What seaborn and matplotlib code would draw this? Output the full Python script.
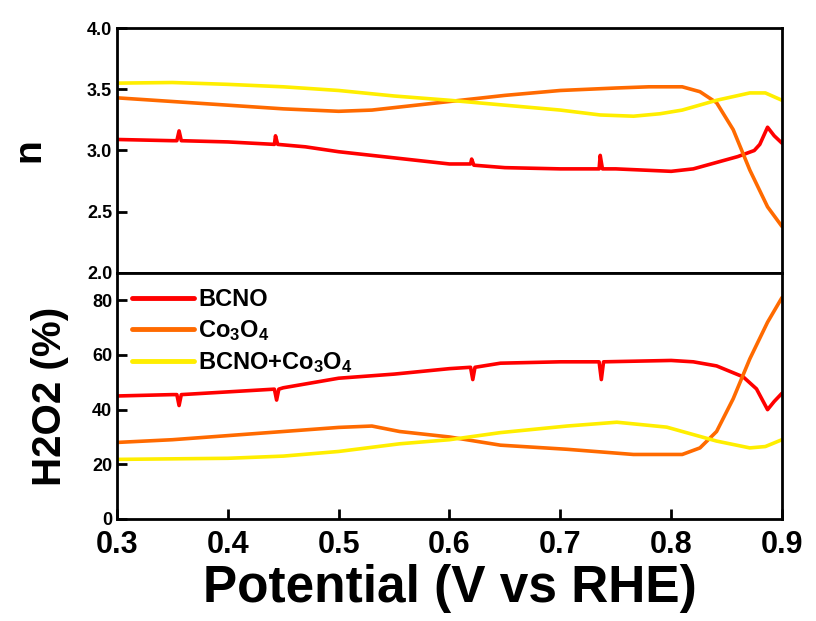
import numpy as np
import pandas as pd
import matplotlib
matplotlib.use("Agg")
import matplotlib.pyplot as plt
import seaborn as sns

# ---- electron transfer number n ----
bcno_n_v = [0.30, 0.35, 0.354, 0.356, 0.358, 0.40, 0.442, 0.443, 0.445, 0.47, 0.50, 0.53, 0.56, 0.60,
            0.619, 0.620, 0.622, 0.65, 0.70, 0.735, 0.736, 0.738, 0.75, 0.80, 0.82, 0.84, 0.86, 0.875,
            0.88, 0.887, 0.893, 0.90]
bcno_n = [3.09, 3.08, 3.08, 3.16, 3.08, 3.07, 3.05, 3.12, 3.05, 3.03, 2.99, 2.96, 2.93, 2.89,
          2.89, 2.93, 2.88, 2.86, 2.85, 2.85, 2.96, 2.85, 2.85, 2.83, 2.85, 2.90, 2.95, 3.00,
          3.05, 3.19, 3.12, 3.06]

co_n_v = [0.30, 0.35, 0.40, 0.45, 0.50, 0.53, 0.56, 0.60, 0.65, 0.70, 0.75, 0.78, 0.81, 0.826,
          0.841, 0.856, 0.871, 0.887, 0.90]
co_n = [3.43, 3.40, 3.37, 3.34, 3.32, 3.33, 3.36, 3.40, 3.45, 3.49, 3.51, 3.52, 3.52, 3.48,
        3.39, 3.17, 2.84, 2.54, 2.38]

mix_n_v = [0.30, 0.35, 0.40, 0.45, 0.50, 0.55, 0.60, 0.65, 0.70, 0.736, 0.766, 0.79, 0.81,
           0.841, 0.871, 0.885, 0.90]
mix_n = [3.55, 3.555, 3.54, 3.52, 3.49, 3.445, 3.41, 3.37, 3.33, 3.29, 3.28, 3.30, 3.33,
         3.41, 3.47, 3.47, 3.41]

# ---- H2O2 selectivity (%) ----
bcno_h_v = [0.30, 0.35, 0.354, 0.356, 0.358, 0.40, 0.442, 0.444, 0.446, 0.45, 0.50, 0.55, 0.60,
            0.619, 0.621, 0.623, 0.646, 0.70, 0.735, 0.737, 0.739, 0.80, 0.82, 0.841, 0.865,
            0.877, 0.887, 0.893, 0.90]
bcno_h = [45.0, 45.5, 45.5, 41.5, 45.5, 46.5, 47.5, 43.5, 47.5, 48.0, 51.5, 53.0, 55.0,
          55.5, 51.0, 55.5, 57.0, 57.5, 57.5, 51.0, 57.5, 58.0, 57.5, 56.0, 52.0,
          47.6, 40.0, 43.0, 46.0]

co_h_v = [0.30, 0.35, 0.40, 0.45, 0.50, 0.53, 0.555, 0.60, 0.646, 0.706, 0.766, 0.81, 0.826,
          0.841, 0.856, 0.871, 0.887, 0.90]
co_h = [28.0, 29.0, 30.5, 32.0, 33.5, 34.0, 32.0, 30.0, 27.0, 25.5, 23.6, 23.6, 26.0,
        32.0, 44.0, 58.6, 72.0, 81.0]

mix_h_v = [0.30, 0.35, 0.40, 0.45, 0.50, 0.555, 0.60, 0.646, 0.706, 0.751, 0.796, 0.841,
           0.871, 0.885, 0.90]
mix_h = [21.8, 22.0, 22.2, 23.0, 24.7, 27.5, 29.0, 31.6, 34.0, 35.4, 33.6, 28.5,
         26.0, 26.5, 29.0]

series_names = ["BCNO", "Co3O4", "BCNO+Co3O4"]
series_labels = ["BCNO", r"Co$_\mathregular{3}$O$_\mathregular{4}$",
                 r"BCNO+Co$_\mathregular{3}$O$_\mathregular{4}$"]
series_colors = ["#FF0000", "#FF6A00", "#FFEE00"]

n_ticks = [2.0, 2.5, 3.0, 3.5, 4.0]
h_ticks = [0, 20, 40, 60, 80]
v_ticks = [0.3, 0.4, 0.5, 0.6, 0.7, 0.8, 0.9]


def long_frame(pairs, value_name):
    parts = []
    for name, (v, y) in zip(series_names, pairs):
        parts.append(pd.DataFrame({"Potential": v, value_name: y, "sample": name}))
    return pd.concat(parts, ignore_index=True)


n_df = long_frame([(bcno_n_v, bcno_n), (co_n_v, co_n), (mix_n_v, mix_n)], "n")
h_df = long_frame([(bcno_h_v, bcno_h), (co_h_v, co_h), (mix_h_v, mix_h)], "H2O2")

sns.set_theme(style="ticks")
plt.rcParams["font.family"] = ["Liberation Sans", "DejaVu Sans"]
plt.rcParams["font.weight"] = "bold"
plt.rcParams["axes.labelweight"] = "bold"
plt.rcParams["mathtext.default"] = "regular"
for key in ("text.color", "axes.labelcolor", "xtick.color", "ytick.color",
            "xtick.labelcolor", "ytick.labelcolor", "axes.edgecolor"):
    plt.rcParams[key] = "black"

fig = plt.figure(figsize=(8.16, 6.21), dpi=100)
fig.patch.set_facecolor("white")
ax_n = fig.add_axes([0.1434, 0.5604, 0.8149, 0.3945])
ax_h = fig.add_axes([0.1434, 0.1643, 0.8149, 0.3961])

palette = dict(zip(series_names, series_colors))
sns.lineplot(data=n_df, x="Potential", y="n", hue="sample", palette=palette,
             estimator=None, sort=False, linewidth=2.6, ax=ax_n, legend=False)
sns.lineplot(data=h_df, x="Potential", y="H2O2", hue="sample", palette=palette,
             estimator=None, sort=False, linewidth=2.6, ax=ax_h, legend=False)

for ax in (ax_n, ax_h):
    ax.set_xlim(0.3, 0.9)
    for sp in ax.spines.values():
        sp.set_linewidth(2.0)
        sp.set_color("black")
        sp.set_visible(True)
    ax.tick_params(direction="in", width=2.0, length=7, colors="black",
                   labelcolor="black")
    ax.set_facecolor("white")

ax_n.set_ylim(2.0, 4.0)
ax_n.set_yticks(n_ticks)
ax_n.set_yticklabels([f"{t:.1f}" for t in n_ticks], fontsize=13, fontweight="bold")
ax_n.set_xticks([])
ax_n.set_xlabel("")
ax_n.set_ylabel("n", fontsize=28, fontweight="bold", color="black")

ax_h.set_ylim(0, 90)
ax_h.set_yticks(h_ticks)
ax_h.set_yticklabels([str(t) for t in h_ticks], fontsize=13, fontweight="bold")
ax_h.set_xticks(v_ticks)
ax_h.set_xticklabels([f"{t:.1f}" for t in v_ticks], fontsize=22, fontweight="bold")
ax_h.tick_params(axis="x", pad=8)
ax_h.set_xlabel("Potential (V vs RHE)", fontsize=37, fontweight="bold",
                labelpad=3, color="black")
ax_h.set_ylabel("H2O2 (%)", fontsize=29, fontweight="bold", color="black")

ax_n.yaxis.set_label_coords(-0.105, 0.5)
ax_h.yaxis.set_label_coords(-0.072, 0.5)

handles = [plt.Line2D([], [], color=c, linewidth=3.5) for c in series_colors]
leg = ax_h.legend(handles, series_labels, loc="upper left", bbox_to_anchor=(0.0, 1.0),
                  frameon=False, handlelength=2.6, handletextpad=0.2,
                  labelspacing=0.3, borderaxespad=0.25,
                  prop={"weight": "bold", "size": 17})
for t in leg.get_texts():
    t.set_color("black")

fig.savefig("out.png", dpi=100, facecolor="white")
